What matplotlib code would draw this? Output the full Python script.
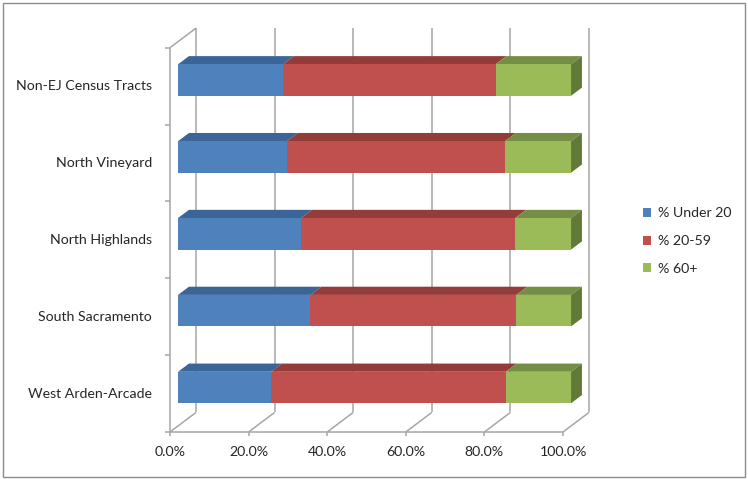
import numpy as np
import matplotlib.pyplot as plt
from matplotlib.patches import Polygon, Patch

plt.rcParams['font.family'] = ['Lato', 'DejaVu Sans']

# data, bottom to top
places = ['West Arden-Arcade', 'South Sacramento', 'North Highlands',
          'North Vineyard', 'Non-EJ Census Tracts']
under20 = [23.7, 33.7, 31.3, 27.7, 26.7]
age20_59 = [59.7, 52.4, 54.5, 55.5, 54.1]
age60 = [16.6, 13.9, 14.2, 16.8, 19.2]
series_names = ['% Under 20', '% 20-59', '% 60+']
xticks = [0, 20, 40, 60, 80, 100]
xtick_labels = ['0.0%', '20.0%', '40.0%', '60.0%', '80.0%', '100.0%']

front_cols = ['#4F81BD', '#C0504D', '#9BBB59']
top_cols = ['#3B6596', '#933C3A', '#748E43']
side_col = '#627A37'
grid_col = '#A6A6A6'
text_col = '#262626'

W, H = 748, 479
fig = plt.figure(figsize=(W / 100, H / 100), dpi=100)
# front plane of the 3D box
ax = fig.add_axes([170 / W, (H - 432) / H, 393 / W, (432 - 47.7) / H])
ax.set_xlim(0, 100)
ax.set_ylim(-0.5, 4.5)
ax.axis('off')

# depth of the box in data units
dx, dy = 6.6, 0.254
f0, f1 = 0.31, 0.73
half = 0.205
ytop = 4.5
ybot = -0.5

def line(xs, ys, **kw):
    ax.plot(xs, ys, color=grid_col, lw=1.1, clip_on=False, solid_capstyle='butt', **kw)

# back wall gridlines
for v in xticks:
    line([v + dx, v + dx], [ybot + dy, ytop + dy])
# left wall
line([0, 0], [ybot, ytop])
line([0, dx], [ytop, ytop + dy])
for k in range(6):
    line([-1.3, 0], [ybot + k, ybot + k])
# floor
line([0, 100], [ybot, ybot])
for v in xticks:
    line([v, v + dx], [ybot, ybot + dy])
    line([v, v], [ybot, ybot - 0.05])

# bars
for i in range(len(places)):
    vals = [under20[i], age20_59[i], age60[i]]
    left = 0
    yb = i - half
    yt = i + half
    for s, w in enumerate(vals):
        a, b = left, left + w
        front = Polygon([(a + f0 * dx, yb + f0 * dy), (b + f0 * dx, yb + f0 * dy),
                         (b + f0 * dx, yt + f0 * dy), (a + f0 * dx, yt + f0 * dy)],
                        closed=True, fc=front_cols[s], ec='none', clip_on=False, zorder=3)
        top = Polygon([(a + f0 * dx, yt + f0 * dy), (b + f0 * dx, yt + f0 * dy),
                       (b + f1 * dx, yt + f1 * dy), (a + f1 * dx, yt + f1 * dy)],
                      closed=True, fc=top_cols[s], ec='none', clip_on=False, zorder=2)
        ax.add_patch(front)
        ax.add_patch(top)
        left = b
    side = Polygon([(left + f0 * dx, yb + f0 * dy), (left + f0 * dx, yt + f0 * dy),
                    (left + f1 * dx, yt + f1 * dy), (left + f1 * dx, yb + f1 * dy)],
                   closed=True, fc=side_col, ec='none', clip_on=False, zorder=2)
    ax.add_patch(side)

# labels
for i, name in enumerate(places):
    ax.text(-4.6, i, name, ha='right', va='center', fontsize=10.2, color=text_col)
for v, lab in zip(xticks, xtick_labels):
    ax.text(v, ybot - 0.26, lab, ha='center', va='center', fontsize=10.2, color=text_col)

handles = [Patch(fc=c, ec='none') for c in front_cols]
fig.legend(handles, series_names, loc='center left', bbox_to_anchor=(630 / W, 1 - 241 / H),
           frameon=False, fontsize=10.2, handlelength=0.6, handleheight=0.6,
           handletextpad=0.5, labelspacing=1.1, labelcolor=text_col)

# outer border
fig.patches.append(plt.Rectangle((2.5 / W, 2.5 / H), 1 - 5.5 / W, 1 - 5.5 / H,
                                 transform=fig.transFigure, fill=False, ec='#8C8C8C', lw=1))

fig.savefig('out.png', dpi=100)
